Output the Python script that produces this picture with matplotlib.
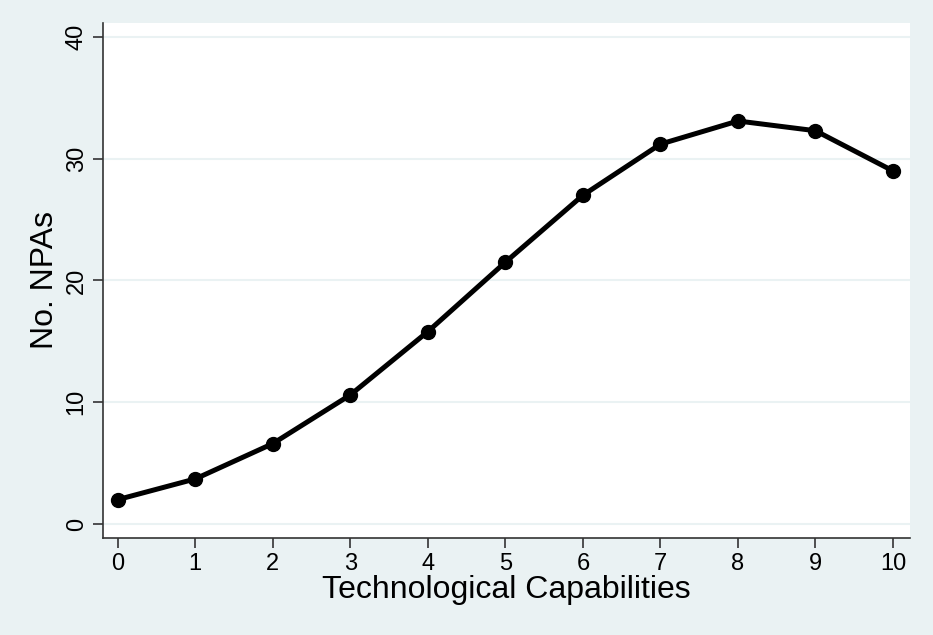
import matplotlib.pyplot as plt

plt.rcParams["font.family"] = ["Liberation Sans", "DejaVu Sans"]

tech_cap = [0, 1, 2, 3, 4, 5, 6, 7, 8, 9, 10]
no_npas = [2.0, 3.7, 6.6, 10.6, 15.8, 21.5, 27.0, 31.2, 33.1, 32.3, 29.0]
y_ticks = [0, 10, 20, 30, 40]

bg = "#EAF2F3"

fig = plt.figure(figsize=(9.33, 6.35), dpi=100, facecolor=bg)
ax = fig.add_axes([0.1104, 0.1528, 0.865, 0.811])
ax.set_facecolor("white")

for y in y_ticks:
    ax.axhline(y, color=bg, lw=1.5, zorder=0)

ax.plot(tech_cap, no_npas, color="black", lw=3.6, marker="o", markersize=10)

ax.set_xlim(-0.19, 10.22)
ax.set_ylim(-1.15, 41.15)
ax.set_xticks(tech_cap)
ax.set_yticks(y_ticks)
ax.set_yticklabels([str(v) for v in y_ticks], rotation=90, va="center")

for side in ["top", "right"]:
    ax.spines[side].set_visible(False)
for side in ["left", "bottom"]:
    ax.spines[side].set_color("#333333")
    ax.spines[side].set_linewidth(1.2)

ax.tick_params(axis="both", labelsize=17, length=7, width=1.2, color="#333333", pad=4)

ax.set_xlabel("Technological Capabilities", fontsize=23, labelpad=0)
ax.set_ylabel("No. NPAs", fontsize=23, labelpad=4)

fig.savefig("out.png", dpi=100, facecolor=bg)
